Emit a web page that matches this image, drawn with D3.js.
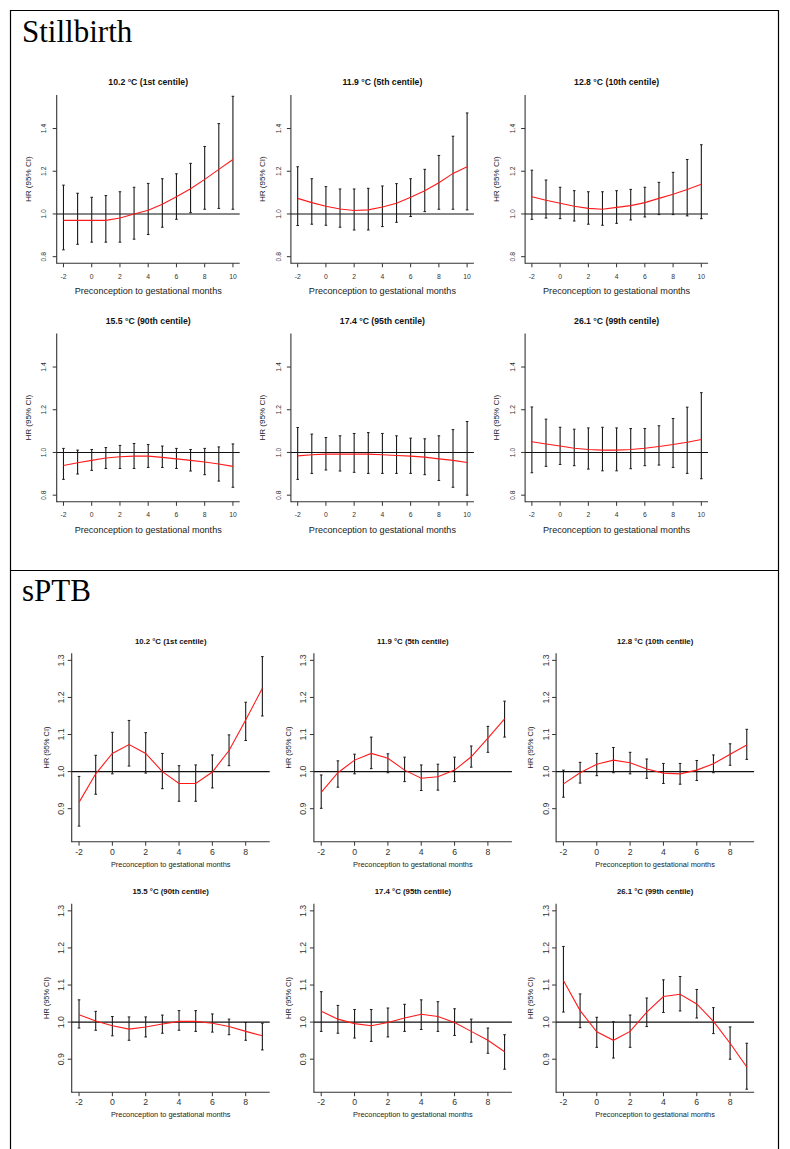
<!DOCTYPE html>
<html>
<head>
<meta charset="utf-8">
<script src="https://cdn.jsdelivr.net/npm/d3@7"></script>
<style>
  body { margin: 0; background: #fff; }
  svg { display: block; }
</style>
</head>
<body>
<svg id="fig" width="790" height="1149"></svg>
<script>
// Temperature centiles shown in each small panel
const panelTitles = [
  "10.2 °C (1st centile)", "11.9 °C (5th centile)", "12.8 °C (10th centile)",
  "15.5 °C (90th centile)", "17.4 °C (95th centile)", "26.1 °C (99th centile)"
];

// Exposure windows (months relative to conception)
const sbMonths  = [-2, -1, 0, 1, 2, 3, 4, 5, 6, 7, 8, 9, 10];
const ptbMonths = [-2, -1, 0, 1, 2, 3, 4, 5, 6, 7, 8, 9];

const sbXTicks  = [-2, 0, 2, 4, 6, 8, 10];
const ptbXTicks = [-2, 0, 2, 4, 6, 8];
const sbYTicks  = [0.8, 1.0, 1.2, 1.4];
const ptbYTicks = [0.9, 1.0, 1.1, 1.2, 1.3];

// Stillbirth: hazard ratios and 95% CI, one row per centile panel
const sbHR = [
  [0.970, 0.970, 0.970, 0.970, 0.981, 1.000, 1.017, 1.045, 1.081, 1.118, 1.162, 1.209, 1.255],
  [1.073, 1.053, 1.036, 1.023, 1.016, 1.019, 1.033, 1.050, 1.078, 1.109, 1.146, 1.190, 1.221],
  [1.081, 1.064, 1.050, 1.036, 1.026, 1.022, 1.031, 1.039, 1.053, 1.073, 1.092, 1.115, 1.139],
  [0.939, 0.952, 0.963, 0.974, 0.980, 0.983, 0.983, 0.977, 0.970, 0.963, 0.955, 0.946, 0.935],
  [0.984, 0.989, 0.992, 0.992, 0.992, 0.992, 0.989, 0.986, 0.983, 0.978, 0.970, 0.963, 0.953],
  [1.050, 1.040, 1.030, 1.020, 1.014, 1.011, 1.011, 1.014, 1.020, 1.028, 1.037, 1.048, 1.061]
];
const sbLow = [
  [0.832, 0.858, 0.868, 0.868, 0.868, 0.882, 0.904, 0.938, 0.975, 1.006, 1.022, 1.026, 1.022],
  [0.946, 0.952, 0.947, 0.938, 0.925, 0.925, 0.941, 0.961, 0.988, 1.011, 1.022, 1.022, 1.019],
  [0.975, 0.981, 0.978, 0.967, 0.952, 0.947, 0.956, 0.972, 0.986, 0.997, 0.997, 0.991, 0.978],
  [0.874, 0.899, 0.916, 0.925, 0.925, 0.925, 0.930, 0.930, 0.925, 0.913, 0.896, 0.866, 0.837],
  [0.874, 0.902, 0.918, 0.913, 0.907, 0.902, 0.902, 0.902, 0.902, 0.896, 0.869, 0.837, 0.800],
  [0.905, 0.935, 0.944, 0.938, 0.922, 0.914, 0.914, 0.924, 0.938, 0.941, 0.930, 0.902, 0.877]
];
const sbHigh = [
  [1.135, 1.097, 1.078, 1.086, 1.104, 1.125, 1.143, 1.165, 1.188, 1.237, 1.316, 1.423, 1.551],
  [1.221, 1.165, 1.128, 1.117, 1.117, 1.120, 1.131, 1.142, 1.165, 1.209, 1.274, 1.364, 1.473],
  [1.205, 1.159, 1.125, 1.109, 1.104, 1.104, 1.109, 1.115, 1.125, 1.148, 1.195, 1.255, 1.324],
  [1.019, 1.011, 1.014, 1.023, 1.033, 1.042, 1.037, 1.030, 1.019, 1.014, 1.019, 1.026, 1.040],
  [1.117, 1.086, 1.070, 1.078, 1.089, 1.093, 1.089, 1.078, 1.067, 1.064, 1.078, 1.107, 1.145],
  [1.213, 1.156, 1.118, 1.109, 1.115, 1.118, 1.115, 1.112, 1.112, 1.125, 1.159, 1.212, 1.280]
];

// Spontaneous preterm birth: hazard ratios and 95% CI
const ptbHR = [
  [0.917, 0.994, 1.049, 1.073, 1.049, 1.000, 0.968, 0.968, 0.999, 1.057, 1.139, 1.225],
  [0.944, 0.997, 1.031, 1.049, 1.036, 1.004, 0.982, 0.986, 1.004, 1.040, 1.090, 1.142],
  [0.967, 0.997, 1.020, 1.031, 1.024, 1.007, 0.996, 0.994, 1.004, 1.021, 1.047, 1.072],
  [1.020, 1.003, 0.990, 0.981, 0.987, 0.995, 1.002, 1.002, 0.997, 0.988, 0.975, 0.963],
  [1.029, 1.008, 0.996, 0.990, 0.999, 1.011, 1.021, 1.015, 0.999, 0.975, 0.951, 0.920],
  [1.112, 1.031, 0.974, 0.951, 0.975, 1.027, 1.069, 1.075, 1.049, 1.002, 0.943, 0.879]
];
const ptbLow = [
  [0.853, 0.939, 0.994, 1.015, 0.996, 0.954, 0.920, 0.920, 0.956, 1.016, 1.084, 1.150],
  [0.901, 0.958, 0.994, 1.008, 0.997, 0.973, 0.949, 0.950, 0.973, 1.012, 1.052, 1.093],
  [0.931, 0.969, 0.989, 0.997, 0.994, 0.982, 0.968, 0.966, 0.976, 0.997, 1.017, 1.033],
  [0.984, 0.978, 0.963, 0.951, 0.960, 0.970, 0.978, 0.975, 0.973, 0.966, 0.951, 0.925],
  [0.975, 0.970, 0.957, 0.948, 0.960, 0.975, 0.980, 0.975, 0.964, 0.946, 0.916, 0.873],
  [1.027, 0.985, 0.932, 0.903, 0.932, 0.988, 1.026, 1.030, 1.011, 0.969, 0.900, 0.819]
];
const ptbHigh = [
  [0.987, 1.044, 1.106, 1.138, 1.105, 1.049, 1.016, 1.018, 1.045, 1.099, 1.187, 1.310],
  [0.991, 1.029, 1.047, 1.093, 1.048, 1.039, 1.018, 1.020, 1.039, 1.069, 1.122, 1.190],
  [1.004, 1.025, 1.049, 1.065, 1.052, 1.034, 1.022, 1.022, 1.030, 1.045, 1.075, 1.114],
  [1.060, 1.029, 1.015, 1.014, 1.014, 1.019, 1.031, 1.031, 1.022, 1.008, 0.999, 0.997],
  [1.082, 1.045, 1.034, 1.034, 1.038, 1.048, 1.060, 1.055, 1.036, 1.008, 0.984, 0.966],
  [1.204, 1.076, 1.013, 1.001, 1.019, 1.065, 1.114, 1.123, 1.088, 1.039, 0.987, 0.943]
];

const svg = d3.select("#fig");
const SANS = "'Liberation Sans', Arial, sans-serif";
const SERIF = "'Liberation Serif', 'Times New Roman', serif";

// Table-like frame around the two outcome blocks
const frame = svg.append("g").attr("stroke", "#000").attr("stroke-width", 1.2).attr("fill", "none");
frame.append("line").attr("x1", 10).attr("x2", 779).attr("y1", 10.5).attr("y2", 10.5);
frame.append("line").attr("x1", 10).attr("x2", 779).attr("y1", 570.5).attr("y2", 570.5);
frame.append("line").attr("x1", 10.5).attr("x2", 10.5).attr("y1", 10).attr("y2", 1149);
frame.append("line").attr("x1", 778.5).attr("x2", 778.5).attr("y1", 10).attr("y2", 1149);

svg.append("text").attr("x", 22).attr("y", 42).attr("font-family", SERIF)
  .attr("font-size", 31).attr("fill", "#000").text("Stillbirth");
svg.append("text").attr("x", 22).attr("y", 601).attr("font-family", SERIF)
  .attr("font-size", 31).attr("fill", "#000").text("sPTB");

function drawPanel(o) {
  const g = svg.append("g");
  const x = d3.scaleLinear().domain(o.xDomain).range([o.left, o.right]);
  const y = d3.scaleLinear().domain(o.yDomain).range([o.bottom, o.top]);
  const axisCol = "#333";

  // L-shaped frame: left and bottom axis lines
  g.append("line").attr("x1", o.left).attr("x2", o.left).attr("y1", o.top).attr("y2", o.bottom + 0.5)
    .attr("stroke", axisCol).attr("stroke-width", 1.1);
  g.append("line").attr("x1", o.left).attr("x2", o.right).attr("y1", o.bottom).attr("y2", o.bottom)
    .attr("stroke", axisCol).attr("stroke-width", 1.1);

  // y axis ticks and rotated labels
  o.yTicks.forEach(v => {
    g.append("line").attr("x1", o.left - o.tick).attr("x2", o.left).attr("y1", y(v)).attr("y2", y(v))
      .attr("stroke", axisCol).attr("stroke-width", 1);
    const lx = o.left - o.yLabOff;
    g.append("text").attr("x", lx).attr("y", y(v))
      .attr("transform", `rotate(-90,${lx},${y(v)})`)
      .attr("text-anchor", "middle").attr("dominant-baseline", "central")
      .attr("font-family", SANS).attr("font-size", o.tickFont).attr("fill", "#333")
      .text(d3.format(".1f")(v));
  });
  // x axis ticks and labels
  o.xTicks.forEach(v => {
    g.append("line").attr("x1", x(v)).attr("x2", x(v)).attr("y1", o.bottom).attr("y2", o.bottom + o.tick)
      .attr("stroke", axisCol).attr("stroke-width", 1);
    g.append("text").attr("x", x(v)).attr("y", o.bottom + o.xLabOff)
      .attr("text-anchor", "middle").attr("dominant-baseline", "central")
      .attr("font-family", SANS).attr("font-size", o.tickFont).attr("fill", "#333")
      .text(v);
  });

  // axis titles and panel title
  const midX = (o.left + o.right) / 2, midY = (o.top + o.bottom) / 2;
  g.append("text").attr("x", midX).attr("y", o.bottom + o.xTitleOff)
    .attr("text-anchor", "middle").attr("dominant-baseline", "central")
    .attr("font-family", SANS).attr("font-size", o.labFont).attr("fill", "#222")
    .text("Preconception to gestational months");
  const tx = o.left - o.yTitleOff;
  g.append("text").attr("x", tx).attr("y", midY)
    .attr("transform", `rotate(-90,${tx},${midY})`)
    .attr("text-anchor", "middle").attr("dominant-baseline", "central")
    .attr("font-family", SANS).attr("font-size", o.yTitleFont).attr("fill", "#222")
    .text("HR (95% CI)");
  g.append("text").attr("x", midX).attr("y", o.titleY)
    .attr("text-anchor", "middle").attr("dominant-baseline", "central")
    .attr("font-family", SANS).attr("font-weight", "bold").attr("font-size", o.titleFont).attr("fill", "#111")
    .text(o.title);

  // reference line at HR = 1
  g.append("line").attr("x1", o.left).attr("x2", o.right).attr("y1", y(1)).attr("y2", y(1))
    .attr("stroke", "#111").attr("stroke-width", 1.1);

  // 95% CI bars with small caps
  const cap = 1.3;
  o.months.forEach((m, i) => {
    const cx = x(m);
    g.append("line").attr("x1", cx).attr("x2", cx).attr("y1", y(o.lo[i])).attr("y2", y(o.hi[i]))
      .attr("stroke", "#1a1a1a").attr("stroke-width", 1.1);
    [o.lo[i], o.hi[i]].forEach(v => {
      g.append("line").attr("x1", cx - cap).attr("x2", cx + cap).attr("y1", y(v)).attr("y2", y(v))
        .attr("stroke", "#1a1a1a").attr("stroke-width", 1);
    });
  });

  // hazard ratio curve
  const line = d3.line().x((d, i) => x(o.months[i])).y(d => y(d));
  g.append("path").datum(o.hr).attr("d", line)
    .attr("fill", "none").attr("stroke", "#ff1a1a").attr("stroke-width", 1.1);
}

// Stillbirth block: 2 rows x 3 columns
for (let p = 0; p < 6; p++) {
  const r = Math.floor(p / 3), c = p % 3;
  const left = 56.7 + c * 234.2;
  drawPanel({
    title: panelTitles[p], months: sbMonths, hr: sbHR[p], lo: sbLow[p], hi: sbHigh[p],
    xTicks: sbXTicks, yTicks: sbYTicks,
    xDomain: [-2.48, 10.48], yDomain: [0.769, 1.557],
    left: left, right: left + 183, top: 95 + r * 238.5, bottom: 263.3 + r * 238.5,
    titleY: 82 + r * 238.5, tick: 4,
    tickFont: 6.8, labFont: 9.1, yTitleFont: 8.1, titleFont: 8.7,
    yLabOff: 12.7, xLabOff: 12.7, xTitleOff: 28, yTitleOff: 28.4
  });
}

// sPTB block: 2 rows x 3 columns
for (let p = 0; p < 6; p++) {
  const r = Math.floor(p / 3), c = p % 3;
  const left = 71.7 + c * 242.2;
  drawPanel({
    title: panelTitles[p], months: ptbMonths, hr: ptbHR[p], lo: ptbLow[p], hi: ptbHigh[p],
    xTicks: ptbXTicks, yTicks: ptbYTicks,
    xDomain: [-2.44, 9.44], yDomain: [0.811, 1.319],
    left: left, right: left + 198, top: 653.3 + r * 250.5, bottom: 841.7 + r * 250.5,
    titleY: 641 + r * 250.5, tick: 4,
    tickFont: 8.7, labFont: 7.4, yTitleFont: 7.4, titleFont: 7.8,
    yLabOff: 10.5, xLabOff: 10, xTitleOff: 22.5, yTitleOff: 25.5
  });
}
</script>
</body>
</html>
